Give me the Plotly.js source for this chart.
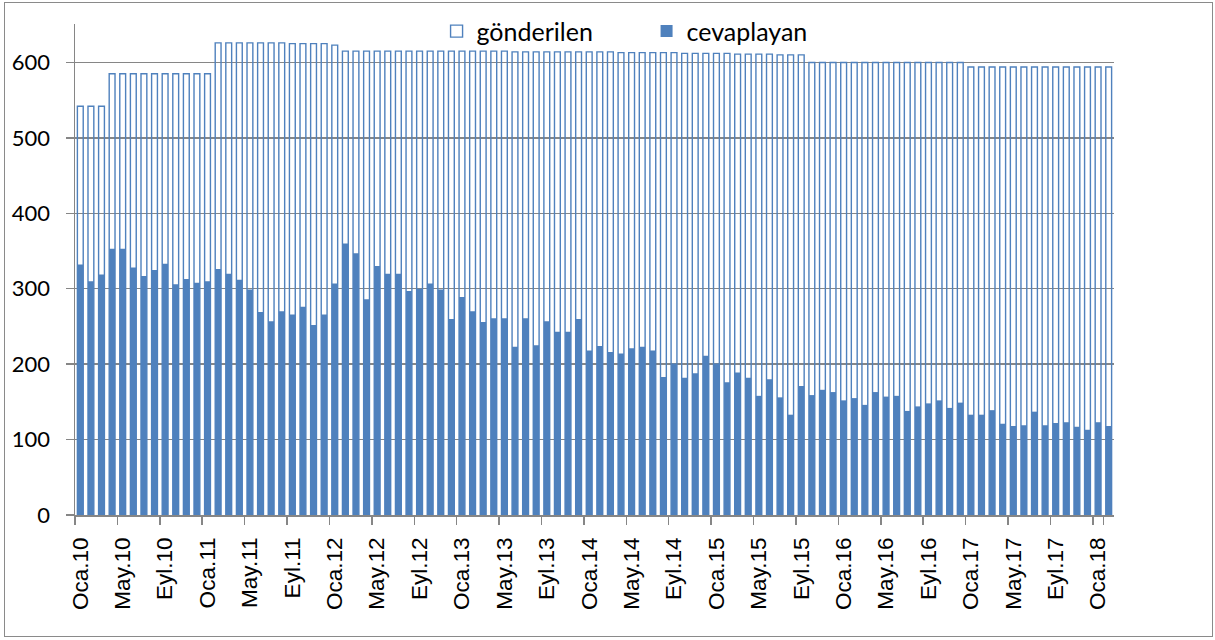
<!DOCTYPE html>
<html>
<head>
<meta charset="utf-8">
<script src="https://cdn.plot.ly/plotly-3.0.1.min.js"></script>
<style>
  html, body { margin: 0; padding: 0; background: #fff; }
  #wrap { position: relative; width: 1215px; height: 640px; }
  #chart { position: absolute; left: 0; top: 0; width: 1215px; height: 640px; }
  #frame { position: absolute; left: 4px; top: 2px; width: 1207px; height: 633px;
           border: 1.5px solid #8a8a8a; pointer-events: none; }
</style>
</head>
<body>
<div id="wrap">
  <div id="chart"></div>
  <div id="frame"></div>
</div>
<script>
const categories = [
  'Oca.10','Şub.10','Mar.10','Nis.10','May.10','Haz.10','Tem.10','Ağu.10','Eyl.10','Eki.10','Kas.10','Ara.10',
  'Oca.11','Şub.11','Mar.11','Nis.11','May.11','Haz.11','Tem.11','Ağu.11','Eyl.11','Eki.11','Kas.11','Ara.11',
  'Oca.12','Şub.12','Mar.12','Nis.12','May.12','Haz.12','Tem.12','Ağu.12','Eyl.12','Eki.12','Kas.12','Ara.12',
  'Oca.13','Şub.13','Mar.13','Nis.13','May.13','Haz.13','Tem.13','Ağu.13','Eyl.13','Eki.13','Kas.13','Ara.13',
  'Oca.14','Şub.14','Mar.14','Nis.14','May.14','Haz.14','Tem.14','Ağu.14','Eyl.14','Eki.14','Kas.14','Ara.14',
  'Oca.15','Şub.15','Mar.15','Nis.15','May.15','Haz.15','Tem.15','Ağu.15','Eyl.15','Eki.15','Kas.15','Ara.15',
  'Oca.16','Şub.16','Mar.16','Nis.16','May.16','Haz.16','Tem.16','Ağu.16','Eyl.16','Eki.16','Kas.16','Ara.16',
  'Oca.17','Şub.17','Mar.17','Nis.17','May.17','Haz.17','Tem.17','Ağu.17','Eyl.17','Eki.17','Kas.17','Ara.17',
  'Oca.18','Şub.18'
];

const tickLabels = [
  'Oca.10','May.10','Eyl.10','Oca.11','May.11','Eyl.11','Oca.12','May.12','Eyl.12',
  'Oca.13','May.13','Eyl.13','Oca.14','May.14','Eyl.14','Oca.15','May.15','Eyl.15',
  'Oca.16','May.16','Eyl.16','Oca.17','May.17','Eyl.17','Oca.18'
];

const yTicks = [0, 100, 200, 300, 400, 500, 600];

const gonderilen = [
  542,542,542,585,585,585,585,585,585,585,585,585,
  585,626,626,626,626,626,626,626,625,625,625,625,
  623,615,615,615,615,615,615,615,615,615,615,615,
  615,615,615,615,615,614,614,614,614,614,614,614,
  614,614,614,613,613,613,613,613,613,612,612,612,
  612,612,611,611,611,611,610,610,610,600,600,600,
  600,600,600,600,600,600,600,600,600,600,600,600,
  594,594,594,594,594,594,594,594,594,594,594,594,
  594,594
];

const cevaplayan = [
  332,310,319,353,353,328,317,325,333,306,313,308,
  310,326,320,312,299,269,257,270,266,276,252,266,
  307,360,347,286,330,320,320,297,300,307,299,260,
  289,270,256,261,261,223,261,225,257,243,243,260,
  218,224,216,214,221,223,218,183,201,182,188,211,
  201,176,189,182,158,180,156,133,171,159,166,163,
  152,155,146,163,157,158,138,144,148,152,142,149,
  133,133,139,121,118,119,137,119,122,123,117,113,
  123,118
];

const seriesNames = ['gönderilen', 'cevaplayan'];

const blue = '#4f81bd';
const grey = '#868686';

const traces = [
  {
    type: 'bar', name: seriesNames[0], x: categories, y: gonderilen,
    marker: { color: 'rgba(255,255,255,0)', line: { color: blue, width: 1.4 } },
    hoverinfo: 'x+y'
  },
  {
    type: 'bar', name: seriesNames[1], x: categories, y: cevaplayan,
    marker: { color: blue, line: { width: 0 } },
    hoverinfo: 'x+y'
  }
];

const layout = {
  width: 1215, height: 640,
  margin: { l: 75, r: 101, t: 24, b: 125, pad: 0, autoexpand: false },
  paper_bgcolor: 'rgba(0,0,0,0)',
  plot_bgcolor: 'rgba(0,0,0,0)',
  barmode: 'overlay',
  bargap: 0.45,
  showlegend: true,
  legend: {
    orientation: 'h', x: 0.348, xanchor: 'left', y: 0.985, yanchor: 'middle',
    font: { family: 'Lato, "Open Sans", sans-serif', size: 25, color: '#000' },
    bgcolor: 'rgba(0,0,0,0)', traceorder: 'normal',
    entrywidth: 165, entrywidthmode: 'pixels'
  },
  xaxis: {
    type: 'category',
    categoryorder: 'array', categoryarray: categories,
    range: [-0.5, categories.length - 0.5],
    tickmode: 'array', tickvals: tickLabels, ticktext: tickLabels,
    tickson: 'boundaries',
    ticks: 'outside', ticklen: 8, tickcolor: grey, tickwidth: 1.5,
    tickangle: -90,
    ticklabelstandoff: 12,
    tickfont: { family: '"Liberation Sans", Arial, sans-serif', size: 22.5, color: '#000' },
    showline: true, linecolor: grey, linewidth: 1.5,
    showgrid: false, zeroline: false, fixedrange: true
  },
  yaxis: {
    range: [0, 651],
    tickmode: 'array', tickvals: yTicks,
    ticks: 'outside', ticklen: 8, tickcolor: grey, tickwidth: 1.5,
    tickfont: { family: 'Lato, "Open Sans", sans-serif', size: 22, color: '#000' },
    ticklabelstandoff: 11,
    showline: true, linecolor: grey, linewidth: 1.5,
    showgrid: true, gridcolor: grey, gridwidth: 1.5,
    zeroline: false, fixedrange: true
  }
};

Plotly.newPlot('chart', traces, layout, { displayModeBar: false, staticPlot: true });
</script>
</body>
</html>
